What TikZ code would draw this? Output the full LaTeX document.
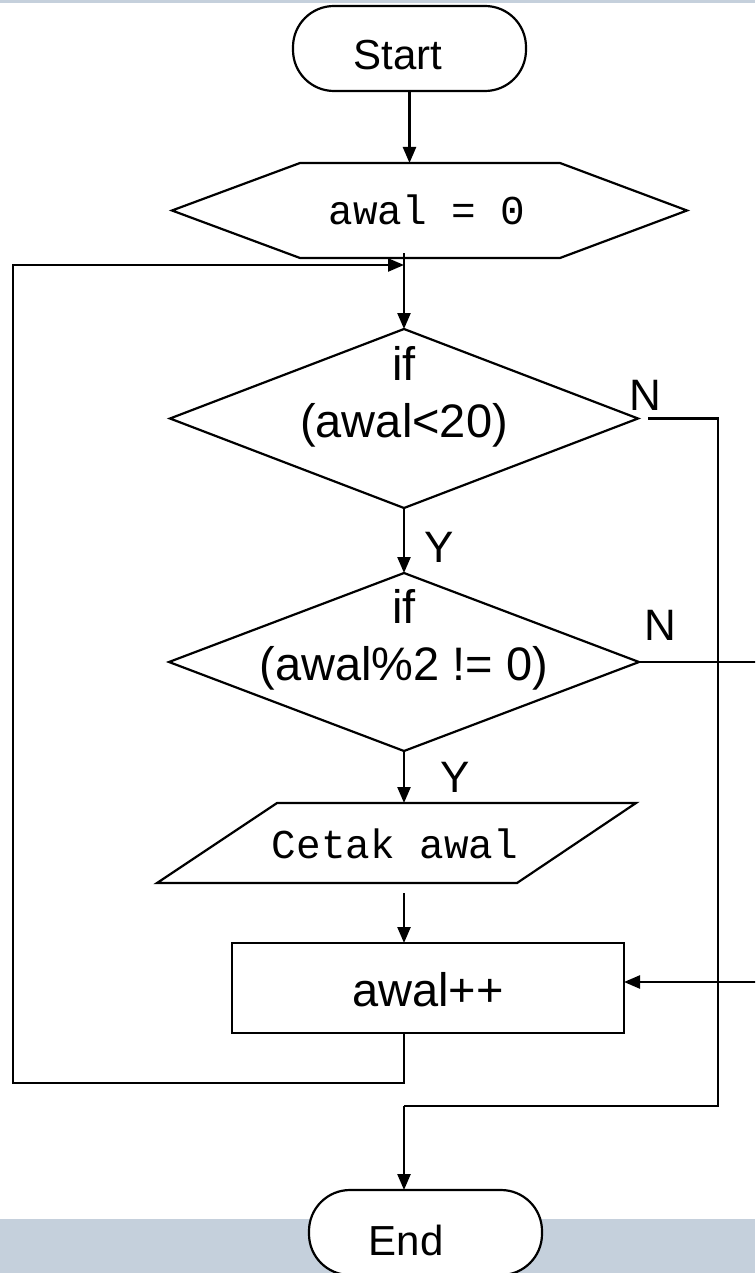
\documentclass[tikz,border=0pt]{standalone}
\usepackage{fontspec}
\setmainfont{Liberation Sans}
\newfontfamily\monofnt{Liberation Mono}
\usetikzlibrary{arrows.meta}
\definecolor{bandcol}{RGB}{197,208,220}
\begin{document}
\begin{tikzpicture}[x=1pt,y=-1pt,
  line/.style={line width=2.4pt},
  arr/.style={line width=2.4pt,-{Triangle[length=16pt,width=13pt]}},
  frame/.style={inner sep=0pt,outer sep=0pt},
  term/.style={frame,draw,line width=2.2pt,fill=white,rounded corners=41pt,minimum width=233pt,minimum height=85pt},
  termtxt/.style={frame,font=\fontsize{42}{50}\selectfont},
  bigtxt/.style={frame,font=\fontsize{47}{57}\selectfont,align=center},
  monotxt/.style={frame,font=\monofnt\fontsize{41}{48}\selectfont},
  yn/.style={frame,font=\fontsize{44}{50}\selectfont},
  outline/.style={line width=2.2pt,line join=miter}
]
\useasboundingbox (0,0) rectangle (755,1273);
\clip (0,0) rectangle (755,1273);
\fill[white] (0,0) rectangle (755,1273);
\fill[bandcol] (0,0) rectangle (755,3);
\fill[bandcol] (0,1219) rectangle (755,1273);

% Start
\node[term] (start) at (409.5,48.5) {};
\node[termtxt] (starttxt) at (398,55) {Start};

% Initialisation hexagon
\node[frame,minimum width=515pt,minimum height=95pt] (init) at (429.5,210.5) {};
\draw[outline] (init.west) -- ([xshift=128pt]init.north west) -- ([xshift=-127pt]init.north east)
  -- (init.east) -- ([xshift=-127pt]init.south east) -- ([xshift=128pt]init.south west) -- cycle;
\node[monotxt] (inittxt) at (427,210) {awal = 0};

% Decision 1
\node[frame,minimum width=468pt,minimum height=179pt] (d1) at (404,418.5) {};
\draw[outline] (d1.north) -- (d1.east) -- (d1.south) -- (d1.west) -- cycle;
\node[bigtxt] (d1txt) at (404,396.5) {if\\(awal<20)};

% Decision 2
\node[frame,minimum width=470pt,minimum height=178pt] (d2) at (404,662) {};
\draw[outline] (d2.north) -- (d2.east) -- (d2.south) -- (d2.west) -- cycle;
\node[bigtxt] (d2txt) at (404,639.5) {if\\(awal\%2 != 0)};

% Output parallelogram
\node[frame,minimum width=479pt,minimum height=80pt] (par) at (396.5,843) {};
\draw[outline] ([xshift=120pt]par.north west) -- (par.north east)
  -- ([xshift=-119pt]par.south east) -- (par.south west) -- cycle;
\node[monotxt] (partxt) at (395,844) {Cetak awal};

% Increment
\node[frame,draw,line width=2.2pt,minimum width=392pt,minimum height=90pt] (inc) at (428,988) {};
\node[bigtxt] (inctxt) at (428,990) {awal++};

% End
\node[term] (end) at (425.5,1232.5) {};
\node[termtxt] (endtxt) at (406,1240) {End};

% labels
\node[yn] (y1) at (439,547) {Y};
\node[yn] (y2) at (455,777) {Y};
\node[yn] (n1) at (645,395) {N};
\node[yn] (n2) at (660,625) {N};

% coordinates
\coordinate (jt) at (404,253);
\coordinate (lj) at (404,265);
\coordinate (lb) at (404,1083);
\coordinate (ll) at (13,1083);
\coordinate (lt) at (13,265);
\coordinate (n1a) at (648,418.5);
\coordinate (rj1) at (718,418.5);
\coordinate (rj2) at (718,1106);
\coordinate (rj3) at (404,1106);
\coordinate (e2) at (760,662);
\coordinate (e3) at (760,982);
\coordinate (ps) at (404,893);

% connectors
\draw[arr] (start.south) -- (start.south |- init.north);
\draw[arr] (jt) -- (d1.north);
\draw[arr] (lb |- inc.south) -- (lb) -- (ll) -- (lt) -- (lj);
\draw[arr] (d1.south) -- (d2.north);
\draw[arr] (d2.south) -- (d2.south |- par.north);
\draw[arr] (ps) -- (ps |- inc.north);
\draw[line] (n1a) -- (rj1) -- (rj2) -- (rj3);
\draw[arr] (rj3) -- (rj3 |- end.north);
\draw[line] (d2.east) -- (e2);
\draw[arr] (e3) -- (inc.east |- e3);
\end{tikzpicture}
\end{document}
